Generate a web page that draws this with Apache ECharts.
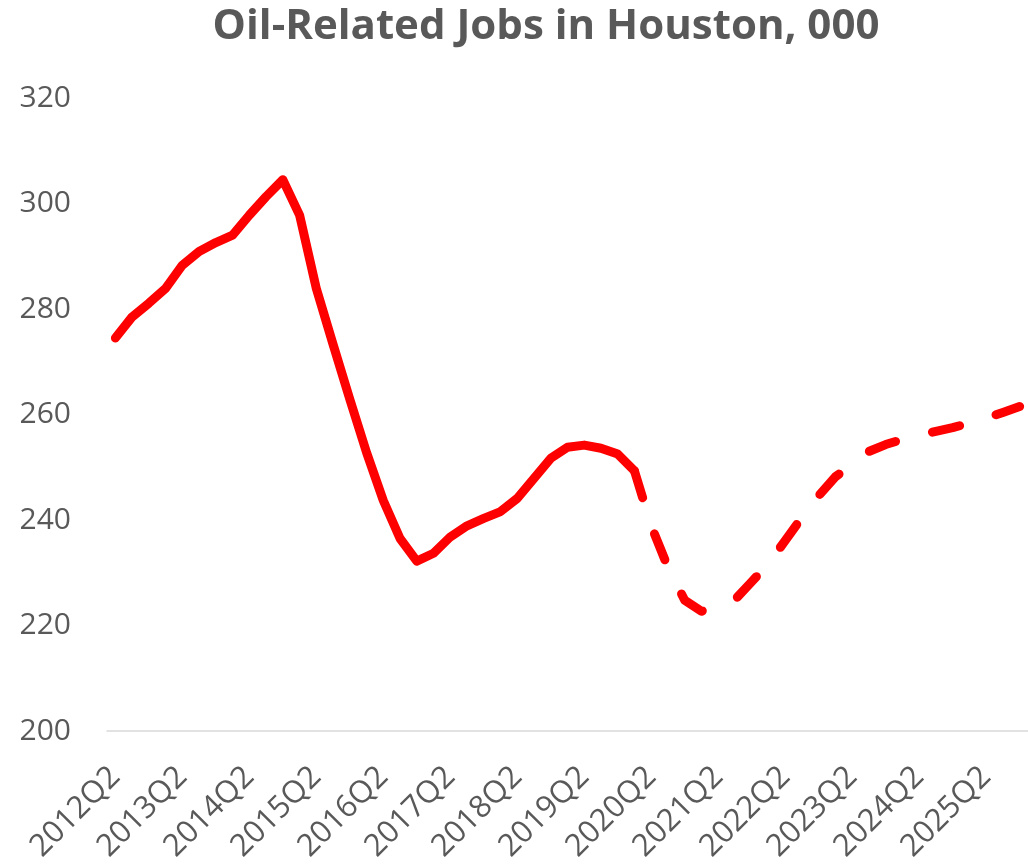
<!DOCTYPE html>
<html>
<head>
<meta charset="utf-8">
<title>Oil-Related Jobs in Houston</title>
<script src="https://cdn.jsdelivr.net/npm/echarts@6/dist/echarts.min.js"></script>
<style>
  html, body { margin: 0; padding: 0; background: #ffffff; }
  #chart { width: 1028px; height: 865px; }
</style>
</head>
<body>
<div id="chart"></div>
<script>
// Quarterly categories, 2012Q2 through 2025Q4
const quarters = [
  '2012Q2','2012Q3','2012Q4',
  '2013Q1','2013Q2','2013Q3','2013Q4',
  '2014Q1','2014Q2','2014Q3','2014Q4',
  '2015Q1','2015Q2','2015Q3','2015Q4',
  '2016Q1','2016Q2','2016Q3','2016Q4',
  '2017Q1','2017Q2','2017Q3','2017Q4',
  '2018Q1','2018Q2','2018Q3','2018Q4',
  '2019Q1','2019Q2','2019Q3','2019Q4',
  '2020Q1','2020Q2','2020Q3','2020Q4',
  '2021Q1','2021Q2','2021Q3','2021Q4',
  '2022Q1','2022Q2','2022Q3','2022Q4',
  '2023Q1','2023Q2','2023Q3','2023Q4',
  '2024Q1','2024Q2','2024Q3','2024Q4',
  '2025Q1','2025Q2','2025Q3','2025Q4'
];

// Historical jobs (000), 2012Q2 - 2020Q1
const actualJobs = [
  274.5, 278.5, 281.1, 283.9, 288.3, 290.9, 292.6, 294.0,
  297.8, 301.3, 304.5, 297.8, 283.9, 273.3, 262.9, 252.8,
  243.7, 236.5, 232.2, 233.7, 236.8, 238.9, 240.3, 241.6,
  244.1, 247.9, 251.7, 253.8, 254.2, 253.6, 252.5, 249.3
];

// Forecast jobs (000), 2020Q1 - 2025Q4
const forecastJobs = [
  249.3, 238.9, 231.0, 224.8, 222.7, 223.9, 224.9, 228.3,
  231.7, 236.1, 240.5, 244.6, 248.2, 250.5, 253.0, 254.3,
  255.3, 256.1, 256.8, 257.5, 258.4, 259.3, 260.4, 261.5
];

const yTicks = { min: 200, max: 320, interval: 20 };

const forecastStart = quarters.indexOf('2020Q1');
const actualSeries = quarters.map((q, i) => i < actualJobs.length ? actualJobs[i] : null);
const forecastSeries = quarters.map((q, i) => i >= forecastStart ? forecastJobs[i - forecastStart] : null);

const textColor = '#595959';
const fontFamily = "'Open Sans', 'Liberation Sans', sans-serif";

const chart = echarts.init(document.getElementById('chart'), null, { renderer: 'canvas' });
chart.setOption({
  animation: false,
  backgroundColor: '#ffffff',
  title: {
    text: 'Oil-Related Jobs in Houston, 000',
    left: 541,
    top: 1,
    textAlign: 'center',
    textStyle: {
      color: textColor,
      fontSize: 42,
      fontWeight: 'bold',
      fontFamily: fontFamily
    }
  },
  grid: {
    left: 107,
    top: 98,
    width: 926,
    height: 633,
    containLabel: false
  },
  xAxis: {
    type: 'category',
    data: quarters,
    boundaryGap: true,
    axisLine: { show: true, lineStyle: { color: '#d9d9d9', width: 1.5 } },
    axisTick: { show: false },
    splitLine: { show: false },
    axisLabel: {
      interval: 3,
      rotate: 45,
      margin: 41,
      color: textColor,
      fontSize: 31,
      fontFamily: fontFamily
    }
  },
  yAxis: {
    type: 'value',
    min: yTicks.min,
    max: yTicks.max,
    interval: yTicks.interval,
    axisLine: { show: false },
    axisTick: { show: false },
    splitLine: { show: false },
    axisLabel: {
      margin: 36,
      color: textColor,
      fontSize: 30,
      fontFamily: fontFamily
    }
  },
  series: [
    {
      name: 'Actual',
      type: 'line',
      data: actualSeries,
      symbol: 'none',
      connectNulls: false,
      lineStyle: { color: '#ff0000', width: 9, cap: 'round', join: 'round' }
    },
    {
      name: 'Forecast',
      type: 'line',
      data: forecastSeries,
      symbol: 'none',
      connectNulls: false,
      lineStyle: { color: '#ff0000', width: 9, type: [28, 38], cap: 'round', join: 'round' }
    }
  ]
});
</script>
</body>
</html>
